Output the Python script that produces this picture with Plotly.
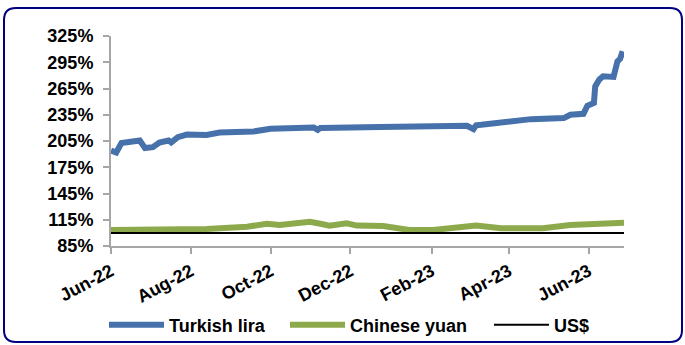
import plotly.graph_objects as go

# Exchange rates indexed against the US dollar (US$ = 100%)
lira_dates = [
    "2022-06-01", "2022-06-05", "2022-06-09", "2022-06-15", "2022-06-23",
    "2022-06-27", "2022-07-03", "2022-07-08", "2022-07-15", "2022-07-17",
    "2022-07-22", "2022-07-29", "2022-08-13", "2022-08-23", "2022-09-18",
    "2022-10-01", "2022-11-03", "2022-11-06", "2022-11-08", "2022-12-24",
    "2023-02-15", "2023-02-28", "2023-03-05", "2023-03-07", "2023-03-11",
    "2023-03-26", "2023-04-18", "2023-05-13", "2023-05-18", "2023-05-28",
    "2023-05-31", "2023-06-05", "2023-06-06", "2023-06-09", "2023-06-12",
    "2023-06-20", "2023-06-23", "2023-06-25", "2023-06-27",
]
lira_values = [
    194.0, 191.8, 202.6, 204.4, 205.6,
    196.9, 198.0, 203.3, 205.6, 203.3,
    209.4, 212.4, 212.0, 214.7, 215.9,
    219.0, 220.4, 217.8, 220.0, 220.9,
    222.4, 222.4, 218.6, 223.0, 223.5,
    226.2, 230.0, 231.2, 235.0, 236.1,
    245.3, 248.4, 267.4, 275.0, 278.9,
    278.2, 296.0, 298.8, 307.5,
]

yuan_dates = [
    "2022-06-01", "2022-08-13", "2022-09-13", "2022-09-28", "2022-10-08",
    "2022-10-31", "2022-11-08", "2022-11-15", "2022-11-28", "2022-12-06",
    "2022-12-26", "2023-01-15", "2023-02-02", "2023-03-07", "2023-03-26",
    "2023-04-27", "2023-05-18", "2023-06-10", "2023-06-28",
]
yuan_values = [
    103.3, 104.5, 107.0, 110.5, 109.0,
    112.8, 110.5, 108.3, 111.0, 108.3,
    107.9, 103.3, 103.3, 108.3, 105.3,
    105.3, 109.0, 110.2, 111.7,
]

usd_dates = ["2022-06-01", "2023-06-28"]
usd_values = [100.0, 100.0]

y_ticks = [85, 115, 145, 175, 205, 235, 265, 295, 325]
y_labels = ["85%", "115%", "145%", "175%", "205%", "235%", "265%", "295%", "325%"]

FONT = "Liberation Sans"
W, H = 685, 345
L, R, T, B = 111, 61, 36, 99
pw, ph = W - L - R, H - T - B


def px(x):
    return (x - L) / pw


def py(y):
    return (H - B - y) / ph


fig = go.Figure()
fig.add_trace(go.Scatter(x=lira_dates, y=lira_values, name="Turkish lira",
                         mode="lines", line=dict(color="#4671AA", width=6),
                         legend="legend"))
fig.add_trace(go.Scatter(x=yuan_dates, y=yuan_values, name="Chinese yuan",
                         mode="lines", line=dict(color="#8CAA4C", width=6),
                         legend="legend2"))
fig.add_trace(go.Scatter(x=usd_dates, y=usd_values, name="US$",
                         mode="lines", line=dict(color="#000000", width=2),
                         legend="legend3"))

# rounded navy frame around the whole chart, expressed in paper units
x0, x1, y0, y1, rad = 4, 682, 8, 342, 12
rx, ry = rad / pw, rad / ph
path = (
    f"M{px(x0)+rx},{py(y0)} L{px(x1)-rx},{py(y0)} "
    f"Q{px(x1)},{py(y0)} {px(x1)},{py(y0)-ry} "
    f"L{px(x1)},{py(y1)+ry} Q{px(x1)},{py(y1)} {px(x1)-rx},{py(y1)} "
    f"L{px(x0)+rx},{py(y1)} Q{px(x0)},{py(y1)} {px(x0)},{py(y1)+ry} "
    f"L{px(x0)},{py(y0)-ry} Q{px(x0)},{py(y0)} {px(x0)+rx},{py(y0)} Z"
)
fig.add_shape(type="path", path=path, xref="paper", yref="paper",
              line=dict(color="#000080", width=2), layer="below")


def legend_at(left_px):
    return dict(orientation="h", x=px(left_px), xanchor="left",
                y=py(325), yanchor="middle",
                font=dict(family=FONT, size=18, weight="bold"),
                itemwidth=55, bgcolor="rgba(0,0,0,0)")


fig.update_layout(
    width=W, height=H,
    margin=dict(l=L, r=R, t=T, b=B, autoexpand=False),
    paper_bgcolor="white", plot_bgcolor="white",
    font=dict(family=FONT, size=18, color="#000000", weight="bold"),
    showlegend=True,
    legend=legend_at(104),
    legend2=legend_at(285),
    legend3=legend_at(489),
    xaxis=dict(
        type="date", range=["2022-06-01", "2023-06-28"],
        tick0="2022-06-01", dtick="M2", tickformat="%b-%y", tickangle=-28,
        showgrid=False, zeroline=False,
        showline=True, linecolor="#A6A6A6", linewidth=2,
        ticks="outside", ticklen=6, tickwidth=2, tickcolor="#A6A6A6",
        tickfont=dict(family=FONT, size=18, weight="bold"),
    ),
    yaxis=dict(
        range=[85, 325], tickmode="array", tickvals=y_ticks, ticktext=y_labels,
        showgrid=False, zeroline=False,
        showline=True, linecolor="#A6A6A6", linewidth=2,
        ticks="outside", ticklen=6, tickwidth=2, tickcolor="#A6A6A6",
        ticklabelstandoff=6,
        tickfont=dict(family=FONT, size=18, weight="bold"),
    ),
)

fig.write_html("out.html")
